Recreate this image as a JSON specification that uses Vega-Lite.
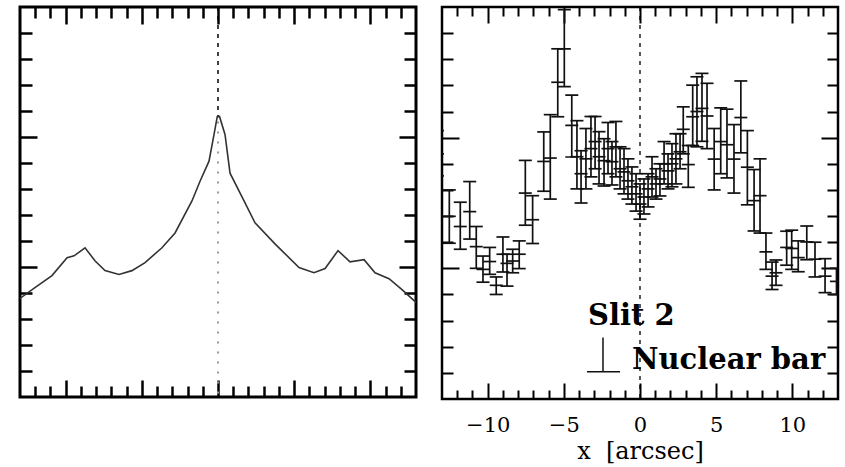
{
  "$schema": "https://vega.github.io/schema/vega-lite/v6.json",
  "padding": {"left": 17, "top": 4, "right": 5, "bottom": 0},
  "background": "white",
  "spacing": 20,
  "config": {
    "axis": {"domain": false, "grid": false, "labels": false, "tickColor": "black", "tickWidth": 2.5, "tickCap": "butt", "title": null},
    "tick": {"opacity": 1}
  },
  "datasets": {
    "curve": [
      {"x": -13.0, "v": 3.79}, {"x": -12.02, "v": 4.21}, {"x": -10.9, "v": 4.67}, {"x": -9.91, "v": 5.36},
      {"x": -9.45, "v": 5.43}, {"x": -8.73, "v": 5.74}, {"x": -8.08, "v": 5.24}, {"x": -7.42, "v": 4.86},
      {"x": -6.5, "v": 4.71}, {"x": -5.65, "v": 4.86}, {"x": -4.79, "v": 5.17}, {"x": -3.68, "v": 5.74},
      {"x": -2.82, "v": 6.31}, {"x": -1.71, "v": 7.54}, {"x": -1.18, "v": 8.3}, {"x": -0.59, "v": 9.07},
      {"x": -0.26, "v": 10.1}, {"x": -0.05, "v": 10.78}, {"x": 0.1, "v": 10.79}, {"x": 0.46, "v": 10.1},
      {"x": 0.79, "v": 8.61}, {"x": 1.71, "v": 7.54}, {"x": 2.43, "v": 6.7}, {"x": 3.74, "v": 5.89},
      {"x": 5.32, "v": 4.98}, {"x": 6.3, "v": 4.78}, {"x": 7.03, "v": 4.94}, {"x": 7.88, "v": 5.63},
      {"x": 8.67, "v": 5.2}, {"x": 9.59, "v": 5.28}, {"x": 10.31, "v": 4.78}, {"x": 11.23, "v": 4.55},
      {"x": 12.08, "v": 4.13}, {"x": 13.0, "v": 3.64}
    ],
    "bars": [
      {"x": -13.3, "lo": 8.54, "y": 9.38, "hi": 10.27},
      {"x": -12.52, "lo": 5.96, "y": 6.99, "hi": 8.0},
      {"x": -11.8, "lo": 5.73, "y": 6.6, "hi": 7.53},
      {"x": -11.18, "lo": 6.12, "y": 7.17, "hi": 8.32},
      {"x": -10.75, "lo": 5.0, "y": 5.83, "hi": 6.6},
      {"x": -10.31, "lo": 4.47, "y": 4.96, "hi": 5.47},
      {"x": -9.87, "lo": 4.77, "y": 5.26, "hi": 5.8},
      {"x": -9.44, "lo": 4.0, "y": 4.35, "hi": 4.67},
      {"x": -9.0, "lo": 4.86, "y": 5.54, "hi": 6.2},
      {"x": -8.73, "lo": 4.32, "y": 5.19, "hi": 5.54},
      {"x": -8.36, "lo": 4.83, "y": 5.28, "hi": 5.73},
      {"x": -7.93, "lo": 4.99, "y": 5.54, "hi": 6.05},
      {"x": -7.53, "lo": 6.65, "y": 7.88, "hi": 9.13},
      {"x": -7.05, "lo": 5.95, "y": 6.86, "hi": 7.78},
      {"x": -6.32, "lo": 7.95, "y": 9.09, "hi": 10.22},
      {"x": -5.89, "lo": 7.65, "y": 9.22, "hi": 10.88},
      {"x": -5.4, "lo": 10.8, "y": 12.12, "hi": 13.4},
      {"x": -4.97, "lo": 11.95, "y": 13.4, "hi": 14.9},
      {"x": -4.48, "lo": 9.26, "y": 10.47, "hi": 11.63},
      {"x": -4.14, "lo": 8.04, "y": 9.27, "hi": 10.65},
      {"x": -3.87, "lo": 7.5, "y": 8.62, "hi": 9.5},
      {"x": -3.55, "lo": 8.04, "y": 9.19, "hi": 10.35},
      {"x": -3.22, "lo": 8.5, "y": 9.58, "hi": 10.81},
      {"x": -2.95, "lo": 8.81, "y": 9.85, "hi": 10.81},
      {"x": -2.69, "lo": 8.23, "y": 9.27, "hi": 10.23},
      {"x": -2.36, "lo": 8.15, "y": 9.12, "hi": 9.96},
      {"x": -2.1, "lo": 8.62, "y": 9.58, "hi": 10.58},
      {"x": -1.84, "lo": 8.19, "y": 9.08, "hi": 9.85},
      {"x": -1.58, "lo": 8.5, "y": 9.65, "hi": 10.62},
      {"x": -1.31, "lo": 8.04, "y": 8.81, "hi": 9.65},
      {"x": -1.05, "lo": 7.85, "y": 8.69, "hi": 9.58},
      {"x": -0.79, "lo": 7.65, "y": 8.35, "hi": 9.19},
      {"x": -0.53, "lo": 7.46, "y": 8.12, "hi": 8.88},
      {"x": -0.26, "lo": 7.19, "y": 7.85, "hi": 8.62},
      {"x": 0.0, "lo": 6.88, "y": 7.46, "hi": 8.23},
      {"x": 0.26, "lo": 7.08, "y": 7.73, "hi": 8.42},
      {"x": 0.53, "lo": 7.35, "y": 8.04, "hi": 8.62},
      {"x": 0.79, "lo": 7.73, "y": 8.5, "hi": 9.27},
      {"x": 1.05, "lo": 7.65, "y": 8.23, "hi": 8.81},
      {"x": 1.31, "lo": 7.77, "y": 8.42, "hi": 9.0},
      {"x": 1.58, "lo": 8.23, "y": 9.0, "hi": 9.85},
      {"x": 1.84, "lo": 8.04, "y": 8.73, "hi": 9.38},
      {"x": 2.1, "lo": 8.12, "y": 9.0, "hi": 9.77},
      {"x": 2.36, "lo": 8.23, "y": 9.19, "hi": 10.15},
      {"x": 2.63, "lo": 8.81, "y": 9.46, "hi": 10.15},
      {"x": 2.84, "lo": 9.38, "y": 10.32, "hi": 11.18},
      {"x": 3.17, "lo": 8.1, "y": 8.97, "hi": 9.7},
      {"x": 3.46, "lo": 9.7, "y": 10.8, "hi": 12.01},
      {"x": 3.74, "lo": 9.65, "y": 11.0, "hi": 12.33},
      {"x": 4.07, "lo": 9.86, "y": 11.12, "hi": 12.46},
      {"x": 4.4, "lo": 9.58, "y": 10.83, "hi": 12.08},
      {"x": 4.87, "lo": 8.0, "y": 9.18, "hi": 10.35},
      {"x": 5.3, "lo": 8.62, "y": 9.85, "hi": 11.14},
      {"x": 5.71, "lo": 8.46, "y": 9.73, "hi": 11.09},
      {"x": 6.17, "lo": 7.88, "y": 9.18, "hi": 10.5},
      {"x": 6.62, "lo": 9.42, "y": 10.77, "hi": 12.17},
      {"x": 7.05, "lo": 7.43, "y": 8.87, "hi": 10.27},
      {"x": 7.49, "lo": 6.43, "y": 7.59, "hi": 8.78},
      {"x": 7.88, "lo": 6.35, "y": 7.78, "hi": 9.19},
      {"x": 8.27, "lo": 4.96, "y": 5.63, "hi": 6.35},
      {"x": 8.67, "lo": 4.19, "y": 4.7, "hi": 5.24},
      {"x": 8.93, "lo": 4.35, "y": 4.83, "hi": 5.32},
      {"x": 9.63, "lo": 5.12, "y": 5.8, "hi": 6.42},
      {"x": 9.96, "lo": 4.96, "y": 5.76, "hi": 6.46},
      {"x": 10.39, "lo": 4.87, "y": 5.41, "hi": 6.05},
      {"x": 10.95, "lo": 5.33, "y": 6.01, "hi": 6.62},
      {"x": 11.49, "lo": 4.67, "y": 5.35, "hi": 6.0},
      {"x": 12.15, "lo": 4.07, "y": 4.7, "hi": 5.37},
      {"x": 12.9, "lo": 4.0, "y": 4.5, "hi": 5.0}
    ]
  },
  "hconcat": [
    {
      "width": 396,
      "height": 390,
      "view": {"stroke": "black", "strokeWidth": 3},
      "resolve": {"axis": {"x": "independent", "y": "independent"}},
      "layer": [
        {
          "data": {"name": "curve"},
          "mark": {"type": "line", "color": "#333333", "strokeWidth": 1.6, "clip": true},
          "encoding": {
            "x": {"field": "x", "type": "quantitative", "scale": {"domain": [-13, 13], "nice": false, "zero": false},
                  "axis": {"orient": "bottom", "values": [-12,-11,-9,-8,-7,-6,-4,-3,-2,-1,1,2,3,4,6,7,8,9,11,12], "tickSize": 11, "offset": -11}},
            "y": {"field": "v", "type": "quantitative", "scale": {"domain": [0, 15], "nice": false, "zero": false},
                  "axis": {"orient": "left", "values": [1,2,3,4,6,7,8,9,11,12,13,14], "tickSize": 12, "offset": -12}}
          }
        },
        {
          "data": {"values": [{}]},
          "mark": {"type": "rule", "color": "black", "strokeWidth": 1.5, "strokeDash": [4, 5]},
          "encoding": {
            "x": {"datum": 0, "type": "quantitative",
                  "axis": {"orient": "top", "values": [-12,-11,-9,-8,-7,-6,-4,-3,-2,-1,1,2,3,4,6,7,8,9,11,12], "tickSize": 11, "offset": -11}},
            "y": {"datum": 15, "type": "quantitative",
                  "axis": {"orient": "right", "values": [1,2,3,4,6,7,8,9,11,12,13,14], "tickSize": 12, "offset": -12}},
            "y2": {"datum": 10.8}
          }
        },
        {
          "data": {"values": [{}]},
          "mark": {"type": "rule", "color": "#999999", "strokeWidth": 2, "strokeDash": [2, 8]},
          "encoding": {
            "x": {"datum": 0, "type": "quantitative",
                  "axis": {"orient": "bottom", "values": [-10, -5, 0, 5, 10], "tickSize": 17, "offset": -17}},
            "y": {"datum": 10.6, "type": "quantitative",
                  "axis": {"orient": "left", "values": [5, 10], "tickSize": 17, "offset": -17}},
            "y2": {"datum": 0}
          }
        },
        {
          "data": {"values": [{}]},
          "mark": {"type": "point", "opacity": 0},
          "encoding": {
            "x": {"datum": 0, "type": "quantitative",
                  "axis": {"orient": "top", "values": [-10, -5, 0, 5, 10], "tickSize": 17, "offset": -17}},
            "y": {"datum": 0, "type": "quantitative",
                  "axis": {"orient": "right", "values": [5, 10], "tickSize": 17, "offset": -17}}
          }
        }
      ]
    },
    {
      "width": 396,
      "height": 392,
      "view": {"stroke": "black", "strokeWidth": 2.5},
      "resolve": {"axis": {"x": "independent", "y": "independent"}},
      "layer": [
        {
          "data": {"name": "bars"},
          "mark": {"type": "rule", "color": "#111111", "strokeWidth": 1.7, "clip": true},
          "encoding": {
            "x": {"field": "x", "type": "quantitative", "scale": {"domain": [-13, 13], "nice": false, "zero": false},
                  "axis": {"orient": "bottom", "values": [-12,-11,-9,-8,-7,-6,-4,-3,-2,-1,1,2,3,4,6,7,8,9,11,12], "tickSize": 9, "tickWidth": 2, "offset": -9}},
            "y": {"field": "lo", "type": "quantitative", "scale": {"domain": [0, 15], "nice": false, "zero": false},
                  "axis": {"orient": "left", "values": [1,2,3,4,6,7,8,9,11,12,13,14], "tickSize": 11, "tickWidth": 2, "offset": -11}},
            "y2": {"field": "hi"}
          }
        },
        {
          "data": {"name": "bars"},
          "mark": {"type": "tick", "orient": "horizontal", "color": "#111111", "size": 13, "thickness": 1.7, "clip": true},
          "encoding": {
            "x": {"field": "x", "type": "quantitative",
                  "axis": {"orient": "top", "values": [-12,-11,-9,-8,-7,-6,-4,-3,-2,-1,1,2,3,4,6,7,8,9,11,12], "tickSize": 9, "tickWidth": 2, "offset": -9}},
            "y": {"field": "hi", "type": "quantitative",
                  "axis": {"orient": "right", "values": [1,2,3,4,6,7,8,9,11,12,13,14], "tickSize": 11, "tickWidth": 2, "offset": -11}}
          }
        },
        {
          "data": {"name": "bars"},
          "mark": {"type": "tick", "orient": "horizontal", "color": "#111111", "size": 13, "thickness": 1.7, "clip": true},
          "encoding": {
            "x": {"field": "x", "type": "quantitative",
                  "axis": {"orient": "bottom", "values": [-10, -5, 0, 5, 10], "tickSize": 16, "tickWidth": 2, "offset": -16,
                           "labels": true, "labelFont": "DejaVu Serif", "labelFontSize": 21, "labelColor": "black", "labelPadding": 15,
                           "title": "x\u00a0\u00a0[arcsec]", "titleFont": "DejaVu Serif", "titleFontSize": 24, "titleFontWeight": "normal", "titleColor": "black", "titlePadding": 4}},
            "y": {"field": "lo", "type": "quantitative",
                  "axis": {"orient": "left", "values": [5, 10], "tickSize": 17, "tickWidth": 2, "offset": -17}}
          }
        },
        {
          "data": {"name": "bars"},
          "mark": {"type": "tick", "orient": "horizontal", "color": "#111111", "size": 13, "thickness": 1.7, "clip": true},
          "encoding": {
            "x": {"field": "x", "type": "quantitative",
                  "axis": {"orient": "top", "values": [-10, -5, 0, 5, 10], "tickSize": 16, "tickWidth": 2, "offset": -16}},
            "y": {"field": "y", "type": "quantitative",
                  "axis": {"orient": "right", "values": [5, 10], "tickSize": 17, "tickWidth": 2, "offset": -17}}
          }
        },
        {
          "data": {"values": [{}]},
          "mark": {"type": "rule", "color": "black", "strokeWidth": 1.3, "strokeDash": [4, 5]},
          "encoding": {
            "x": {"datum": 0, "type": "quantitative", "axis": null},
            "y": {"datum": 15, "type": "quantitative", "axis": null},
            "y2": {"datum": 0}
          }
        },
        {
          "data": {"values": [{}]},
          "mark": {"type": "text", "text": "Slit 2", "font": "DejaVu Serif", "fontWeight": "bold", "fontSize": 29, "align": "left", "baseline": "alphabetic", "color": "black"},
          "encoding": {
            "x": {"datum": -3.41, "type": "quantitative", "axis": null},
            "y": {"datum": 2.85, "type": "quantitative", "axis": null}
          }
        },
        {
          "data": {"values": [{}]},
          "mark": {"type": "text", "text": "Nuclear bar", "font": "DejaVu Serif", "fontWeight": "bold", "fontSize": 29, "align": "left", "baseline": "alphabetic", "color": "black"},
          "encoding": {
            "x": {"datum": -0.53, "type": "quantitative", "axis": null},
            "y": {"datum": 1.15, "type": "quantitative", "axis": null}
          }
        },
        {
          "data": {"values": [{}]},
          "mark": {"type": "rule", "color": "#111111", "strokeWidth": 1.5},
          "encoding": {
            "x": {"datum": -2.43, "type": "quantitative", "axis": null},
            "y": {"datum": 1.04, "type": "quantitative", "axis": null},
            "y2": {"datum": 2.35}
          }
        },
        {
          "data": {"values": [{}]},
          "mark": {"type": "rule", "color": "#111111", "strokeWidth": 1.5},
          "encoding": {
            "x": {"datum": -3.48, "type": "quantitative", "axis": null},
            "x2": {"datum": -1.31},
            "y": {"datum": 1.04, "type": "quantitative", "axis": null}
          }
        }
      ]
    }
  ]
}
